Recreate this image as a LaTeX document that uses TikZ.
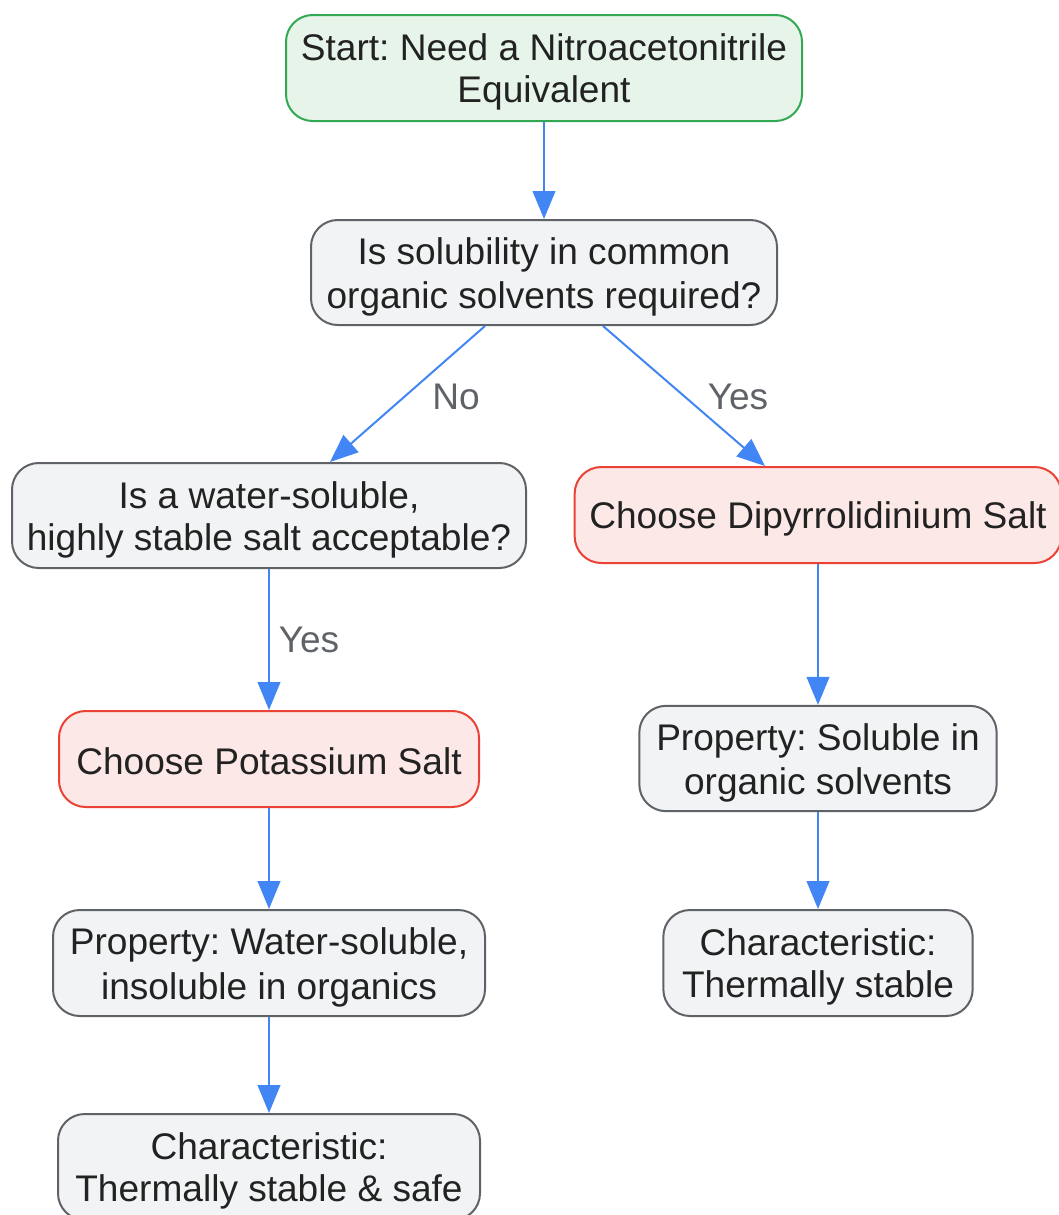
\documentclass[tikz,border=0pt]{standalone}
\usepackage{fontspec}
\setmainfont{Liberation Sans}
\usetikzlibrary{arrows.meta}
\frenchspacing
\definecolor{edgeblue}{HTML}{4285F4}
\definecolor{lblgray}{HTML}{5F6368}
\definecolor{textdark}{HTML}{222222}
\definecolor{graystroke}{HTML}{5F6368}
\definecolor{grayfill}{HTML}{F1F3F4}
\definecolor{redstroke}{HTML}{EA4335}
\definecolor{redfill}{HTML}{FCE8E6}
\definecolor{greenstroke}{HTML}{34A853}
\definecolor{greenfill}{HTML}{E6F4EA}
\newcommand\vst{\rule[-3.5pt]{0pt}{30pt}}
\tikzset{
  box/.style={rounded corners=20pt, line width=1.5pt, align=center, inner sep=0pt,
    font=\fontsize{27.8}{31.5}\selectfont, text=textdark},
  graybox/.style={box, draw=graystroke, fill=grayfill},
  redbox/.style={box, draw=redstroke, fill=redfill},
  greenbox/.style={box, draw=greenstroke, fill=greenfill},
  conn/.style={draw=edgeblue, line width=1.5pt, -{Triangle[length=21pt,width=17pt]}},
  lbl/.style={text=lblgray, font=\fontsize{27.8}{31.5}\selectfont, inner sep=0pt}
}
\begin{document}
\begin{tikzpicture}[x=0.75pt,y=-0.75pt]
\useasboundingbox (0,0) rectangle (1059,1215);
\node[greenbox, minimum width=387pt, minimum height=79.5pt] (start) at (544,68) {\vst Start: Need a Nitroacetonitrile\\\vst Equivalent};
\node[graybox, minimum width=349.5pt, minimum height=78.75pt] (q1) at (544,272.5) {\vst Is solubility in common\\\vst organic solvents required?};
\node[graybox, minimum width=385.5pt, minimum height=78.75pt] (q2) at (269,515.5) {\vst Is a water-soluble,\\\vst highly stable salt acceptable?};
\node[redbox, minimum width=365pt, minimum height=72pt] (dip) at (818,515) {\vst Choose Dipyrrolidinium Salt};
\node[redbox, minimum width=315pt, minimum height=72pt] (pot) at (269,759) {\vst Choose Potassium Salt};
\node[graybox, minimum width=268pt, minimum height=79pt] (propr) at (818,758.5) {\vst Property: Soluble in\\\vst organic solvents};
\node[graybox, minimum width=324pt, minimum height=79.5pt] (propl) at (269,963) {\vst Property: Water-soluble,\\\vst insoluble in organics};
\node[graybox, minimum width=232pt, minimum height=79.5pt] (charr) at (818,963) {\vst Characteristic:\\\vst Thermally stable};
\node[graybox, minimum width=316.5pt, minimum height=79.5pt] (charl) at (269,1167) {\vst Characteristic:\\\vst Thermally stable \& safe};

\draw[conn] (start.south) -- (q1.north);
\draw[conn] ([xshift=-44.25pt]q1.south) -- ([xshift=45.75pt]q2.north);
\draw[conn] ([xshift=44.25pt]q1.south) -- ([xshift=-39.75pt]dip.north);
\draw[conn] (q2.south) -- (pot.north);
\draw[conn] (pot.south) -- (propl.north);
\draw[conn] (propl.south) -- (charl.north);
\draw[conn] (dip.south) -- (propr.north);
\draw[conn] (propr.south) -- (charr.north);

\node[lbl] (lno) at (456,397) {No};
\node[lbl] (lyes1) at (738,397) {Yes};
\node[lbl] (lyes2) at (309,640) {Yes};
\end{tikzpicture}
\end{document}
